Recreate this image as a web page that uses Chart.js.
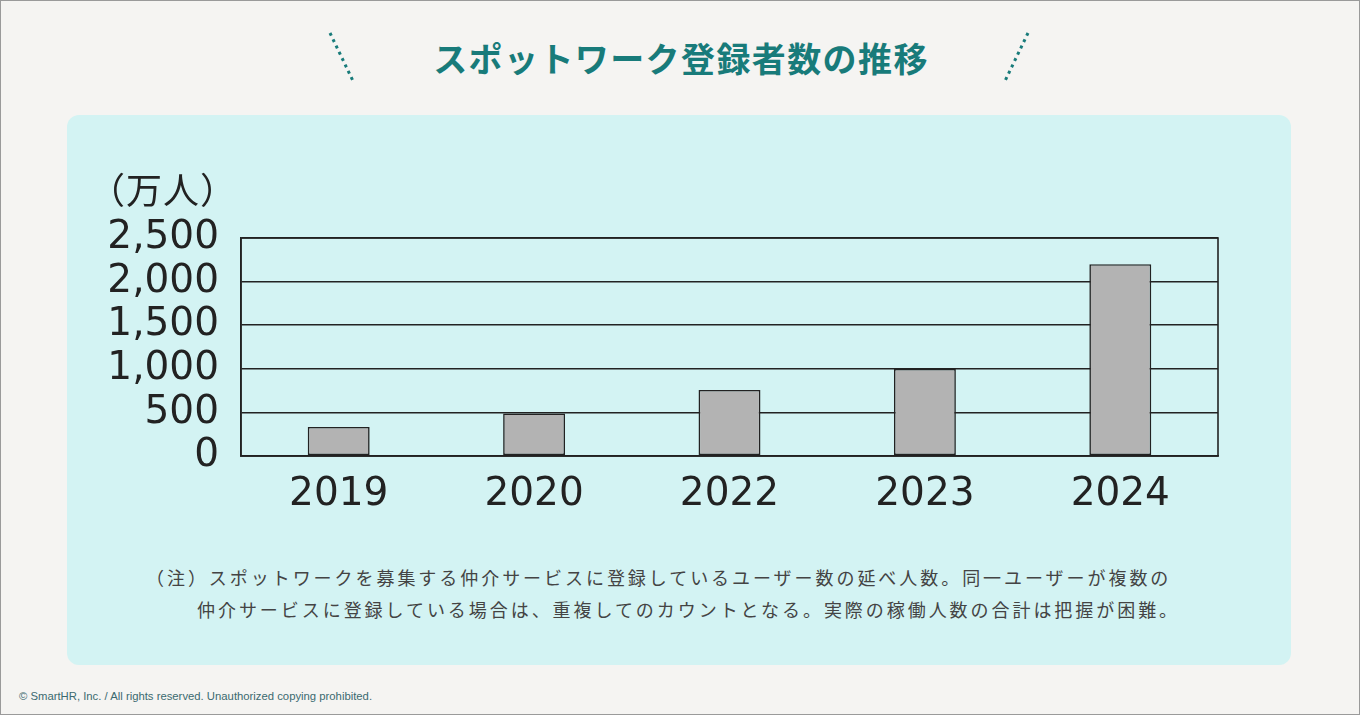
<!DOCTYPE html>
<html lang="ja">
<head>
<meta charset="utf-8">
<title>スポットワーク登録者数の推移</title>
<script src="https://cdn.jsdelivr.net/npm/chart.js@4"></script>
<style>
  html, body { margin: 0; padding: 0; }
  body {
    width: 1360px; height: 715px; position: relative; overflow: hidden;
    background: #f5f4f2; box-sizing: border-box; border: 1px solid #9a9a9a;
    font-family: 'Noto Sans CJK JP', 'Noto Sans', sans-serif;
  }
  .title {
    position: absolute; left: 0; width: 1360px; top: 32px; text-align: center;
    font-size: 34px; font-weight: 700; color: #187b7a; letter-spacing: 1.4px; line-height: 50px;
  }
  .deco { position: absolute; left: 0; top: 0; }
  .card {
    position: absolute; left: 66px; top: 114px; width: 1224px; height: 550px;
    background: #d3f3f3; border-radius: 12px;
  }
  .card canvas { position: absolute; left: 0; top: 0; }
  .unit {
    position: absolute; left: 22px; top: 50px; font-size: 36px; color: #222;
    letter-spacing: 1px; line-height: 46px;
  }
  .note {
    position: absolute; font-size: 18px; color: #444; letter-spacing: 2.95px;
    white-space: nowrap; line-height: 26px;
  }
  .copy {
    position: absolute; left: 18px; top: 689px; font-family: 'Liberation Sans', Arial, sans-serif;
    font-size: 11.3px; color: #3b6a70;
  }
</style>
</head>
<body>
<div class="title">スポットワーク登録者数の推移</div>
<svg class="deco" width="1360" height="100">
  <line x1="329" y1="32" x2="352" y2="80" stroke="#187b7a" stroke-width="3" stroke-dasharray="3 4"/>
  <line x1="1027" y1="32" x2="1004" y2="80" stroke="#187b7a" stroke-width="3" stroke-dasharray="3 4"/>
</svg>
<div class="card">
  <canvas id="barChart"></canvas>
  <div class="unit">（万人）</div>
  <div class="note" style="left:79px; top:449px;">（注）スポットワークを募集する仲介サービスに登録しているユーザー数の延べ人数。同一ユーザーが複数の</div>
  <div class="note" style="left:130px; top:481px;">仲介サービスに登録している場合は、重複してのカウントとなる。実際の稼働人数の合計は把握が困難。</div>
</div>
<div class="copy">© SmartHR, Inc. / All rights reserved. Unauthorized copying prohibited.</div>

<script>
// ─── DATA ─────────────────────────────────────────
const years      = ['2019', '2020', '2022', '2023', '2024'];
const registered = [333, 488, 757, 1000, 2200];   // 万人
const yTickLabels = ['0', '500', '1,000', '1,500', '2,000', '2,500'];

// ─── CHART ────────────────────────────────────────
const INK = '#222';
Chart.defaults.font.family = "'DejaVu Sans', sans-serif";
Chart.defaults.color = INK;

// frame around the plot area (right edge has no axis of its own)
const frame = {
  id: 'frame',
  afterDatasetsDraw(chart) {
    const { ctx, chartArea: a } = chart;
    ctx.save();
    ctx.strokeStyle = INK;
    ctx.lineWidth = 1.6;
    ctx.strokeRect(a.left, a.top, a.right - a.left, a.bottom - a.top);
    ctx.restore();
  }
};

const canvas = document.getElementById('barChart');
canvas.width = 1224;
canvas.height = 420;

new Chart(canvas, {
  type: 'bar',
  data: {
    labels: years,
    datasets: [{
      data: registered,
      backgroundColor: '#b3b3b3',
      borderColor: INK,
      borderWidth: 1.6,
      borderSkipped: false,
      categoryPercentage: 1,
      barPercentage: 0.317
    }]
  },
  options: {
    responsive: false,
    animation: false,
    layout: { padding: { top: 123, right: 73, left: 0, bottom: 0 } },
    plugins: { legend: { display: false }, tooltip: { enabled: false } },
    scales: {
      x: {
        grid: { display: false },
        border: { display: true, color: INK, width: 1.6 },
        ticks: { font: { size: 39 }, padding: 7, color: INK },
        afterFit: s => { s.height = 79; }
      },
      y: {
        min: 0, max: 2500,
        grid: { color: INK, lineWidth: 1.6, drawTicks: false },
        border: { display: true, color: INK, width: 1.6 },
        ticks: {
          stepSize: 500, padding: 22, font: { size: 39 }, color: INK,
          autoSkip: false,
          callback: (v, i) => yTickLabels[i]
        },
        afterFit: s => { s.width = 174; }
      }
    }
  },
  plugins: [frame]
});
</script>
</body>
</html>
